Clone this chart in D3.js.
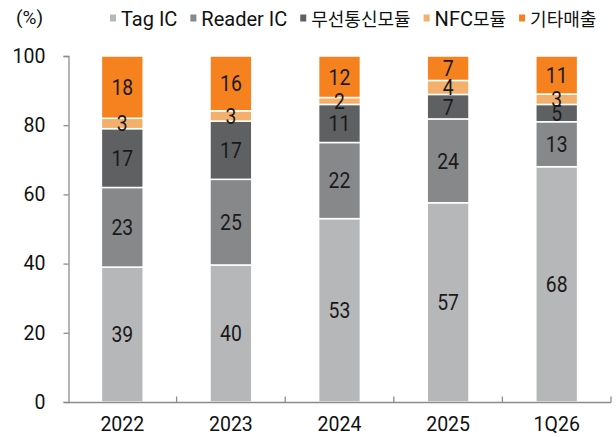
<!DOCTYPE html>
<head>
<meta charset="utf-8">
<title>매출 구성</title>
<style>
  body { margin: 0; background: #fff; }
  text { font-family: Roboto, "Noto Sans CJK KR", sans-serif; fill: #222; }
</style>
</head>
<script src="https://d3js.org/d3.v7.min.js"></script>
<div id="chart"></div>
<script>
// data (%)
var years = ["2022", "2023", "2024", "2025", "1Q26"];
var series = ["Tag IC", "Reader IC", "무선통신모듈", "NFC모듈", "기타매출"];
var tagIC    = [39, 40, 53, 57, 68];
var readerIC = [23, 25, 22, 24, 13];
var wireless = [17, 17, 11, 7, 5];
var nfc      = [3, 3, 2, 4, 3];
var other    = [18, 16, 12, 7, 11];
var yTicks   = [0, 20, 40, 60, 80, 100];
var colors   = ["#b6b7b9", "#86888a", "#5e6062", "#f3b06d", "#f5821f"];

var W = 616, H = 437;
var svg = d3.select("#chart").append("svg")
  .attr("width", W).attr("height", H);

var rows = years.map(function (y, i) {
  return { year: y, "Tag IC": tagIC[i], "Reader IC": readerIC[i],
    "무선통신모듈": wireless[i], "NFC모듈": nfc[i], "기타매출": other[i] };
});

// bars top out at 100 even when rounded labels do not
var stacked = d3.stack().keys(series).offset(d3.stackOffsetExpand)(rows);

var x = d3.scaleBand().domain(years).range([68, 611]).paddingInner(0.615).paddingOuter(0.3075);
var y = d3.scaleLinear().domain([0, 100]).range([402, 56]);
var color = d3.scaleOrdinal().domain(series).range(colors);

// bars
svg.append("g").selectAll("g")
  .data(stacked).enter().append("g")
  .attr("fill", function (d) { return color(d.key); })
  .selectAll("rect")
  .data(function (d) { return d; })
  .enter().append("rect")
    .attr("x", function (d) { return x(d.data.year); })
    .attr("width", x.bandwidth())
    .attr("y", function (d) { return y(d[1] * 100); })
    .attr("height", function (d) { return y(d[0] * 100) - y(d[1] * 100); })
    .attr("stroke", "#fff")
    .attr("stroke-width", 1.5);

// value labels, drawn over all bars
var labels = [];
stacked.forEach(function (s) {
  s.forEach(function (p) { labels.push({ key: s.key, p: p }); });
});
svg.append("g").selectAll("text")
  .data(labels).enter().append("text")
    .attr("text-anchor", "middle")
    .attr("dy", "0.36em")
    .attr("transform", function (d) {
      var cx = x(d.p.data.year) + x.bandwidth() / 2;
      var cy = y((d.p[0] + d.p[1]) / 2 * 100);
      return "translate(" + cx + "," + cy + ") scale(0.88,1)";
    })
    .style("font-size", "22px")
    .style("fill", "#1a1a1a")
    .text(function (d) { return d.p.data[d.key]; });

// y axis
var yAxis = svg.append("g")
  .attr("transform", "translate(68.5,0)")
  .call(d3.axisLeft(y).tickValues(yTicks).tickSize(5).tickPadding(18));
yAxis.select(".domain").attr("stroke", "#8c8c8c").attr("stroke-width", 1.3);
yAxis.selectAll(".tick line").attr("stroke", "#8c8c8c").attr("stroke-width", 1.3);
yAxis.selectAll(".tick text").style("font-size", "19.5px").style("fill", "#111");

// x axis with boundary ticks pointing up
var xAxis = svg.append("g").attr("transform", "translate(0,402.5)");
xAxis.append("line")
  .attr("x1", 68).attr("x2", 611).attr("y1", 0).attr("y2", 0)
  .attr("stroke", "#8c8c8c").attr("stroke-width", 1.3);
xAxis.selectAll("line.b")
  .data(years).enter().append("line")
    .attr("class", "b")
    .attr("x1", function (d) { return x(d) + x.bandwidth() / 2 + x.step() / 2; })
    .attr("x2", function (d) { return x(d) + x.bandwidth() / 2 + x.step() / 2; })
    .attr("y1", 0).attr("y2", -6)
    .attr("stroke", "#8c8c8c").attr("stroke-width", 1.3);
xAxis.selectAll("text")
  .data(years).enter().append("text")
    .attr("x", function (d) { return x(d) + x.bandwidth() / 2; })
    .attr("y", 28.5)
    .attr("text-anchor", "middle")
    .style("font-size", "19.5px")
    .style("fill", "#111")
    .text(function (d) { return d; });

// unit
svg.append("text")
  .attr("x", 16).attr("y", 24)
  .style("font-size", "19px")
  .style("fill", "#111")
  .text("(%)");

// legend, laid out left to right; hangul runs set smaller than latin
var lx = 110;
series.forEach(function (s, i) {
  svg.append("rect")
    .attr("x", lx).attr("y", 14.5)
    .attr("width", 6).attr("height", 7)
    .attr("fill", colors[i]);
  var t = svg.append("text")
    .attr("x", lx + 11).attr("y", 26)
    .style("fill", "#111");
  s.match(/[\uac00-\ud7a3]+|[^\uac00-\ud7a3]+/g).forEach(function (run) {
    var hangul = /[\uac00-\ud7a3]/.test(run);
    t.append("tspan")
      .style("font-size", hangul ? "18px" : "20px")
      .text(run);
  });
  lx += 11 + t.node().getComputedTextLength() + 13;
});
</script>
